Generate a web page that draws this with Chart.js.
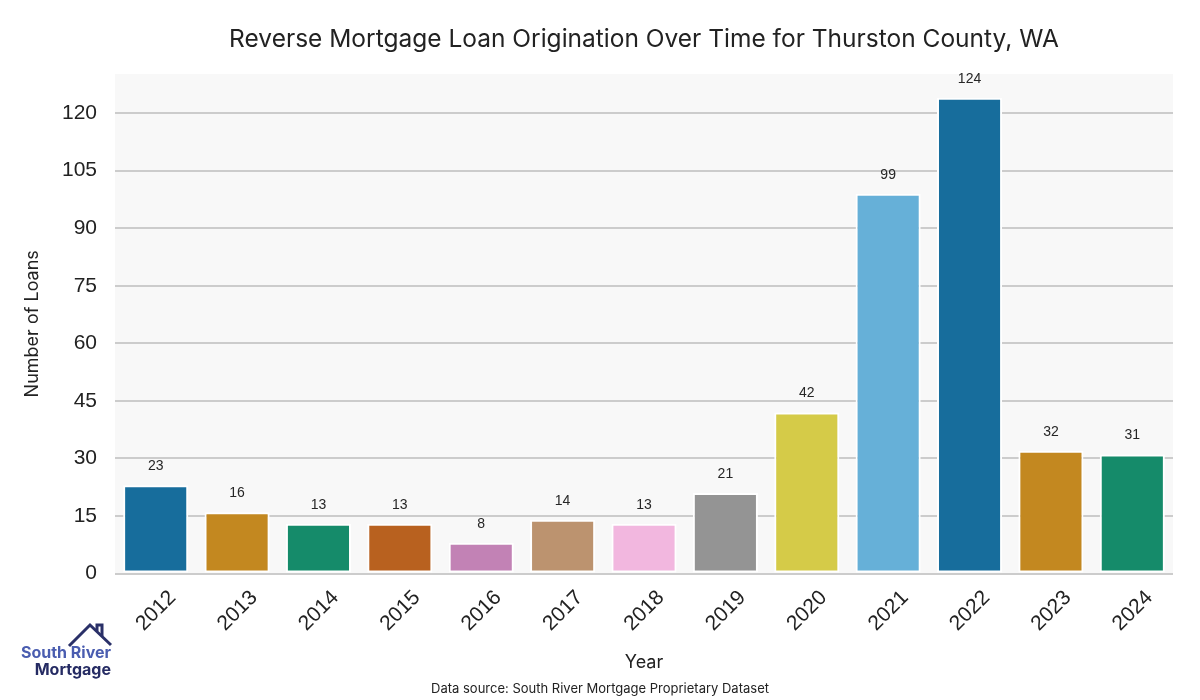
<!DOCTYPE html>
<html>
<head>
<meta charset="utf-8">
<script src="https://cdn.jsdelivr.net/npm/chart.js@4"></script>
<style>
  html, body { margin: 0; padding: 0; background: #fff; }
  #wrap { width: 1200px; height: 700px; }
</style>
</head>
<body>
<div id="wrap"><canvas id="loanChart" width="1200" height="700"></canvas></div>
<script>
const years = ['2012', '2013', '2014', '2015', '2016', '2017', '2018', '2019', '2020', '2021', '2022', '2023', '2024'];
const loans = [23, 16, 13, 13, 8, 14, 13, 21, 42, 99, 124, 32, 31];
const barColors = ['#176d9c', '#c38820', '#158b6a', '#b8611f', '#c282b5', '#bc936f', '#f2b7df',
  '#949494', '#d5cb48', '#66b0d8', '#176d9c', '#c38820', '#158b6a'];
const yTicks = [0, 15, 30, 45, 60, 75, 90, 105, 120];
const chartTitle = 'Reverse Mortgage Loan Origination Over Time for Thurston County, WA';

// grey background behind the plot area
const plotBg = {
  id: 'plotBg',
  beforeDraw(chart) {
    const { ctx, chartArea } = chart;
    ctx.save();
    ctx.fillStyle = '#f8f8f8';
    ctx.fillRect(chartArea.left, chartArea.top, chartArea.right - chartArea.left, chartArea.bottom - chartArea.top);
    ctx.restore();
  }
};

// value labels over the bars
const barValues = {
  id: 'barValues',
  afterDatasetsDraw(chart) {
    const ctx = chart.ctx;
    const meta = chart.getDatasetMeta(0);
    ctx.save();
    ctx.font = '14px "Liberation Sans", Arial, sans-serif';
    ctx.fillStyle = '#262626';
    ctx.textAlign = 'center';
    ctx.textBaseline = 'middle';
    meta.data.forEach((bar, i) => {
      ctx.fillText(loans[i], bar.x, bar.y - 19);
    });
    ctx.restore();
  }
};

// title (centred over plot area), footer text and logo
const extras = {
  id: 'extras',
  afterDraw(chart) {
    const ctx = chart.ctx;
    const area = chart.chartArea;
    ctx.save();
    ctx.textAlign = 'center';
    ctx.textBaseline = 'middle';
    ctx.fillStyle = '#222';
    ctx.font = '24.5px Inter, "DejaVu Sans", sans-serif';
    ctx.fillText(chartTitle, (area.left + area.right) / 2, 40);

    ctx.font = '13px Inter, "DejaVu Sans", sans-serif';
    ctx.fillText('Data source: South River Mortgage Proprietary Dataset', 600, 689);

    // house roof
    ctx.strokeStyle = '#2a3068';
    ctx.lineWidth = 3;
    ctx.lineJoin = 'miter';
    ctx.beginPath();
    ctx.moveTo(69, 646);
    ctx.lineTo(90, 625);
    ctx.lineTo(111, 645);
    ctx.stroke();
    ctx.beginPath();
    ctx.moveTo(97, 631);
    ctx.lineTo(97, 625);
    ctx.lineTo(102, 625);
    ctx.lineTo(102, 636);
    ctx.stroke();

    ctx.textAlign = 'right';
    ctx.font = 'bold 16px Inter, "DejaVu Sans", sans-serif';
    ctx.fillStyle = '#4a5db0';
    ctx.fillText('South River', 111, 653);
    ctx.fillStyle = '#252b63';
    ctx.fillText('Mortgage', 111, 670);
    ctx.restore();
  }
};

new Chart(document.getElementById('loanChart'), {
  type: 'bar',
  data: {
    labels: years,
    datasets: [{
      data: loans,
      backgroundColor: barColors,
      borderColor: '#ffffff',
      borderWidth: 2,
      borderSkipped: false,
      categoryPercentage: 1.0,
      barPercentage: 0.8
    }]
  },
  options: {
    responsive: false,
    animation: false,
    layout: {
      padding: { left: 22, right: 27, top: 74, bottom: 27 }
    },
    plugins: {
      legend: { display: false },
      tooltip: { enabled: false },
      title: { display: false }
    },
    scales: {
      x: {
        grid: { display: false },
        border: { display: false },
        ticks: {
          font: { family: '"Liberation Sans", Arial, sans-serif', size: 21 },
          color: '#222',
          maxRotation: 45,
          minRotation: 45,
          labelOffset: 17,
          padding: 4
        },
        title: {
          display: true,
          text: 'Year',
          font: { family: 'Inter, "DejaVu Sans", sans-serif', size: 18 },
          color: '#222',
          padding: { top: 11, bottom: 0 }
        }
      },
      y: {
        min: 0,
        max: 130.2,
        afterBuildTicks(axis) {
          axis.ticks = yTicks.map(v => ({ value: v }));
        },
        afterFit(axis) {
          axis.width = 93;
        },
        grid: { color: '#cccccc', lineWidth: 2, drawTicks: false },
        border: { display: false },
        ticks: {
          font: { family: '"Liberation Sans", Arial, sans-serif', size: 21 },
          color: '#222',
          padding: 18
        },
        title: {
          display: true,
          text: 'Number of Loans',
          font: { family: 'Inter, "DejaVu Sans", sans-serif', size: 18 },
          color: '#222',
          padding: { top: 0, bottom: 0 }
        }
      }
    }
  },
  plugins: [plotBg, barValues, extras]
});
</script>
</body>
</html>
